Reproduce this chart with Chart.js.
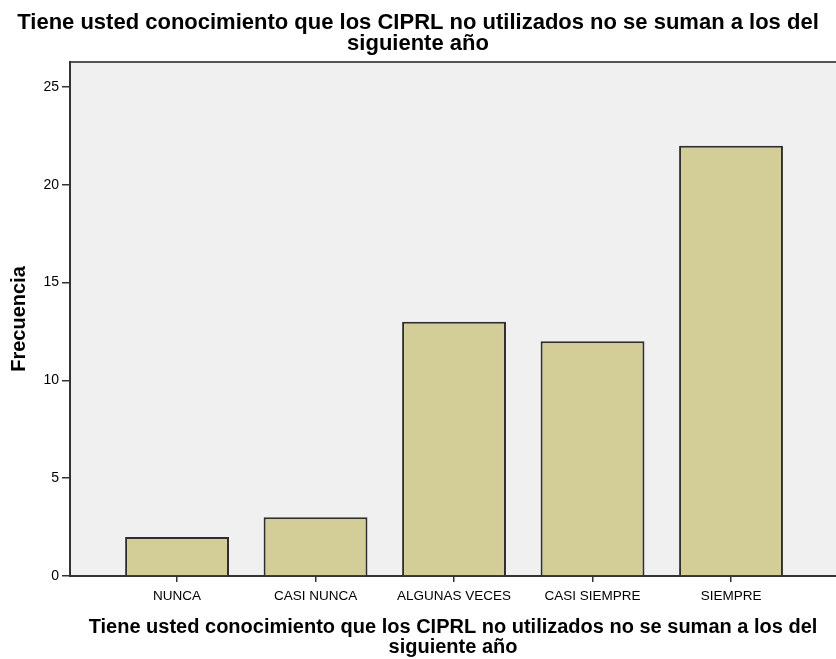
<!DOCTYPE html>
<html>
<head>
<meta charset="utf-8">
<script src="https://cdn.jsdelivr.net/npm/chart.js@4/dist/chart.umd.min.js"></script>
<style>
html,body{margin:0;padding:0;background:#fff;}
canvas{display:block;}
</style>
</head>
<body>
<canvas id="c" width="836" height="659"></canvas>
<script>
const categories = ['NUNCA', 'CASI NUNCA', 'ALGUNAS VECES', 'CASI SIEMPRE', 'SIEMPRE'];
const frequencies = [2, 3, 13, 12, 22];
const yTicks = [0, 5, 10, 15, 20, 25];
const chartTitle = ['Tiene usted conocimiento que los CIPRL no utilizados no se suman a los del', 'siguiente año'];
const xTitle = ['Tiene usted conocimiento que los CIPRL no utilizados no se suman a los del', 'siguiente año'];
const yTitle = 'Frecuencia';

const FONT = "'Liberation Sans', Arial, sans-serif";

const bgPlugin = {
  id: 'plotbg',
  beforeDraw(chart) {
    const {ctx, chartArea: a} = chart;
    ctx.save();
    ctx.fillStyle = '#F0F0F0';
    ctx.fillRect(a.left, a.top, a.right - a.left, a.bottom - a.top);
    ctx.strokeStyle = '#555555';
    ctx.lineWidth = 2;
    ctx.beginPath();
    ctx.moveTo(a.left, a.top);
    ctx.lineTo(a.right, a.top);
    ctx.stroke();
    ctx.restore();
  }
};

new Chart(document.getElementById('c'), {
  type: 'bar',
  data: {
    datasets: [{
      data: frequencies.map((v, i) => ({x: i, y: v})),
      backgroundColor: '#D3CE97',
      borderColor: '#2E2E2E',
      borderWidth: 2,
      categoryPercentage: 1,
      barPercentage: 0.75
    }]
  },
  options: {
    responsive: false,
    animation: false,
    layout: {padding: 0},
    plugins: {
      legend: {display: false},
      tooltip: {enabled: false},
      title: {
        display: true,
        text: chartTitle,
        color: '#000',
        font: {family: FONT, size: 22, weight: 'bold', lineHeight: '21px'},
        padding: {top: 12, bottom: 8}
      }
    },
    scales: {
      x: {
        type: 'linear',
        offset: false,
        min: -0.773,
        max: 4.758,
        afterFit(s) { s.height = 83; },
        afterBuildTicks(s) { s.ticks = categories.map((c, i) => ({value: i})); },
        grid: {offset: false, drawOnChartArea: false, drawTicks: true, tickLength: 6, color: '#333', lineWidth: 1.5},
        border: {display: true, color: '#333', width: 2},
        ticks: {
          autoSkip: false,
          maxRotation: 0,
          padding: 6,
          color: '#000',
          font: {family: FONT, size: 13.5},
          callback: (v) => categories[v] !== undefined ? categories[v] : ''
        },
        title: {
          display: true,
          text: xTitle,
          color: '#000',
          font: {family: FONT, size: 20, weight: 'bold', lineHeight: '20px'},
          padding: {top: 0, bottom: 2}
        }
      },
      y: {
        min: 0,
        max: 26.28,
        afterFit(s) { s.width = 70; },
        afterBuildTicks(s) { s.ticks = yTicks.map(v => ({value: v})); },
        grid: {drawOnChartArea: false, drawTicks: true, tickLength: 8, color: '#333', lineWidth: 1.5},
        border: {display: true, color: '#333', width: 2},
        ticks: {
          padding: 3,
          color: '#000',
          font: {family: FONT, size: 14}
        },
        title: {
          display: true,
          text: yTitle,
          color: '#000',
          font: {family: FONT, size: 20, weight: 'bold', lineHeight: '20px'},
          padding: {top: 9, bottom: 0}
        }
      }
    }
  },
  plugins: [bgPlugin]
});
</script>
</body>
</html>
